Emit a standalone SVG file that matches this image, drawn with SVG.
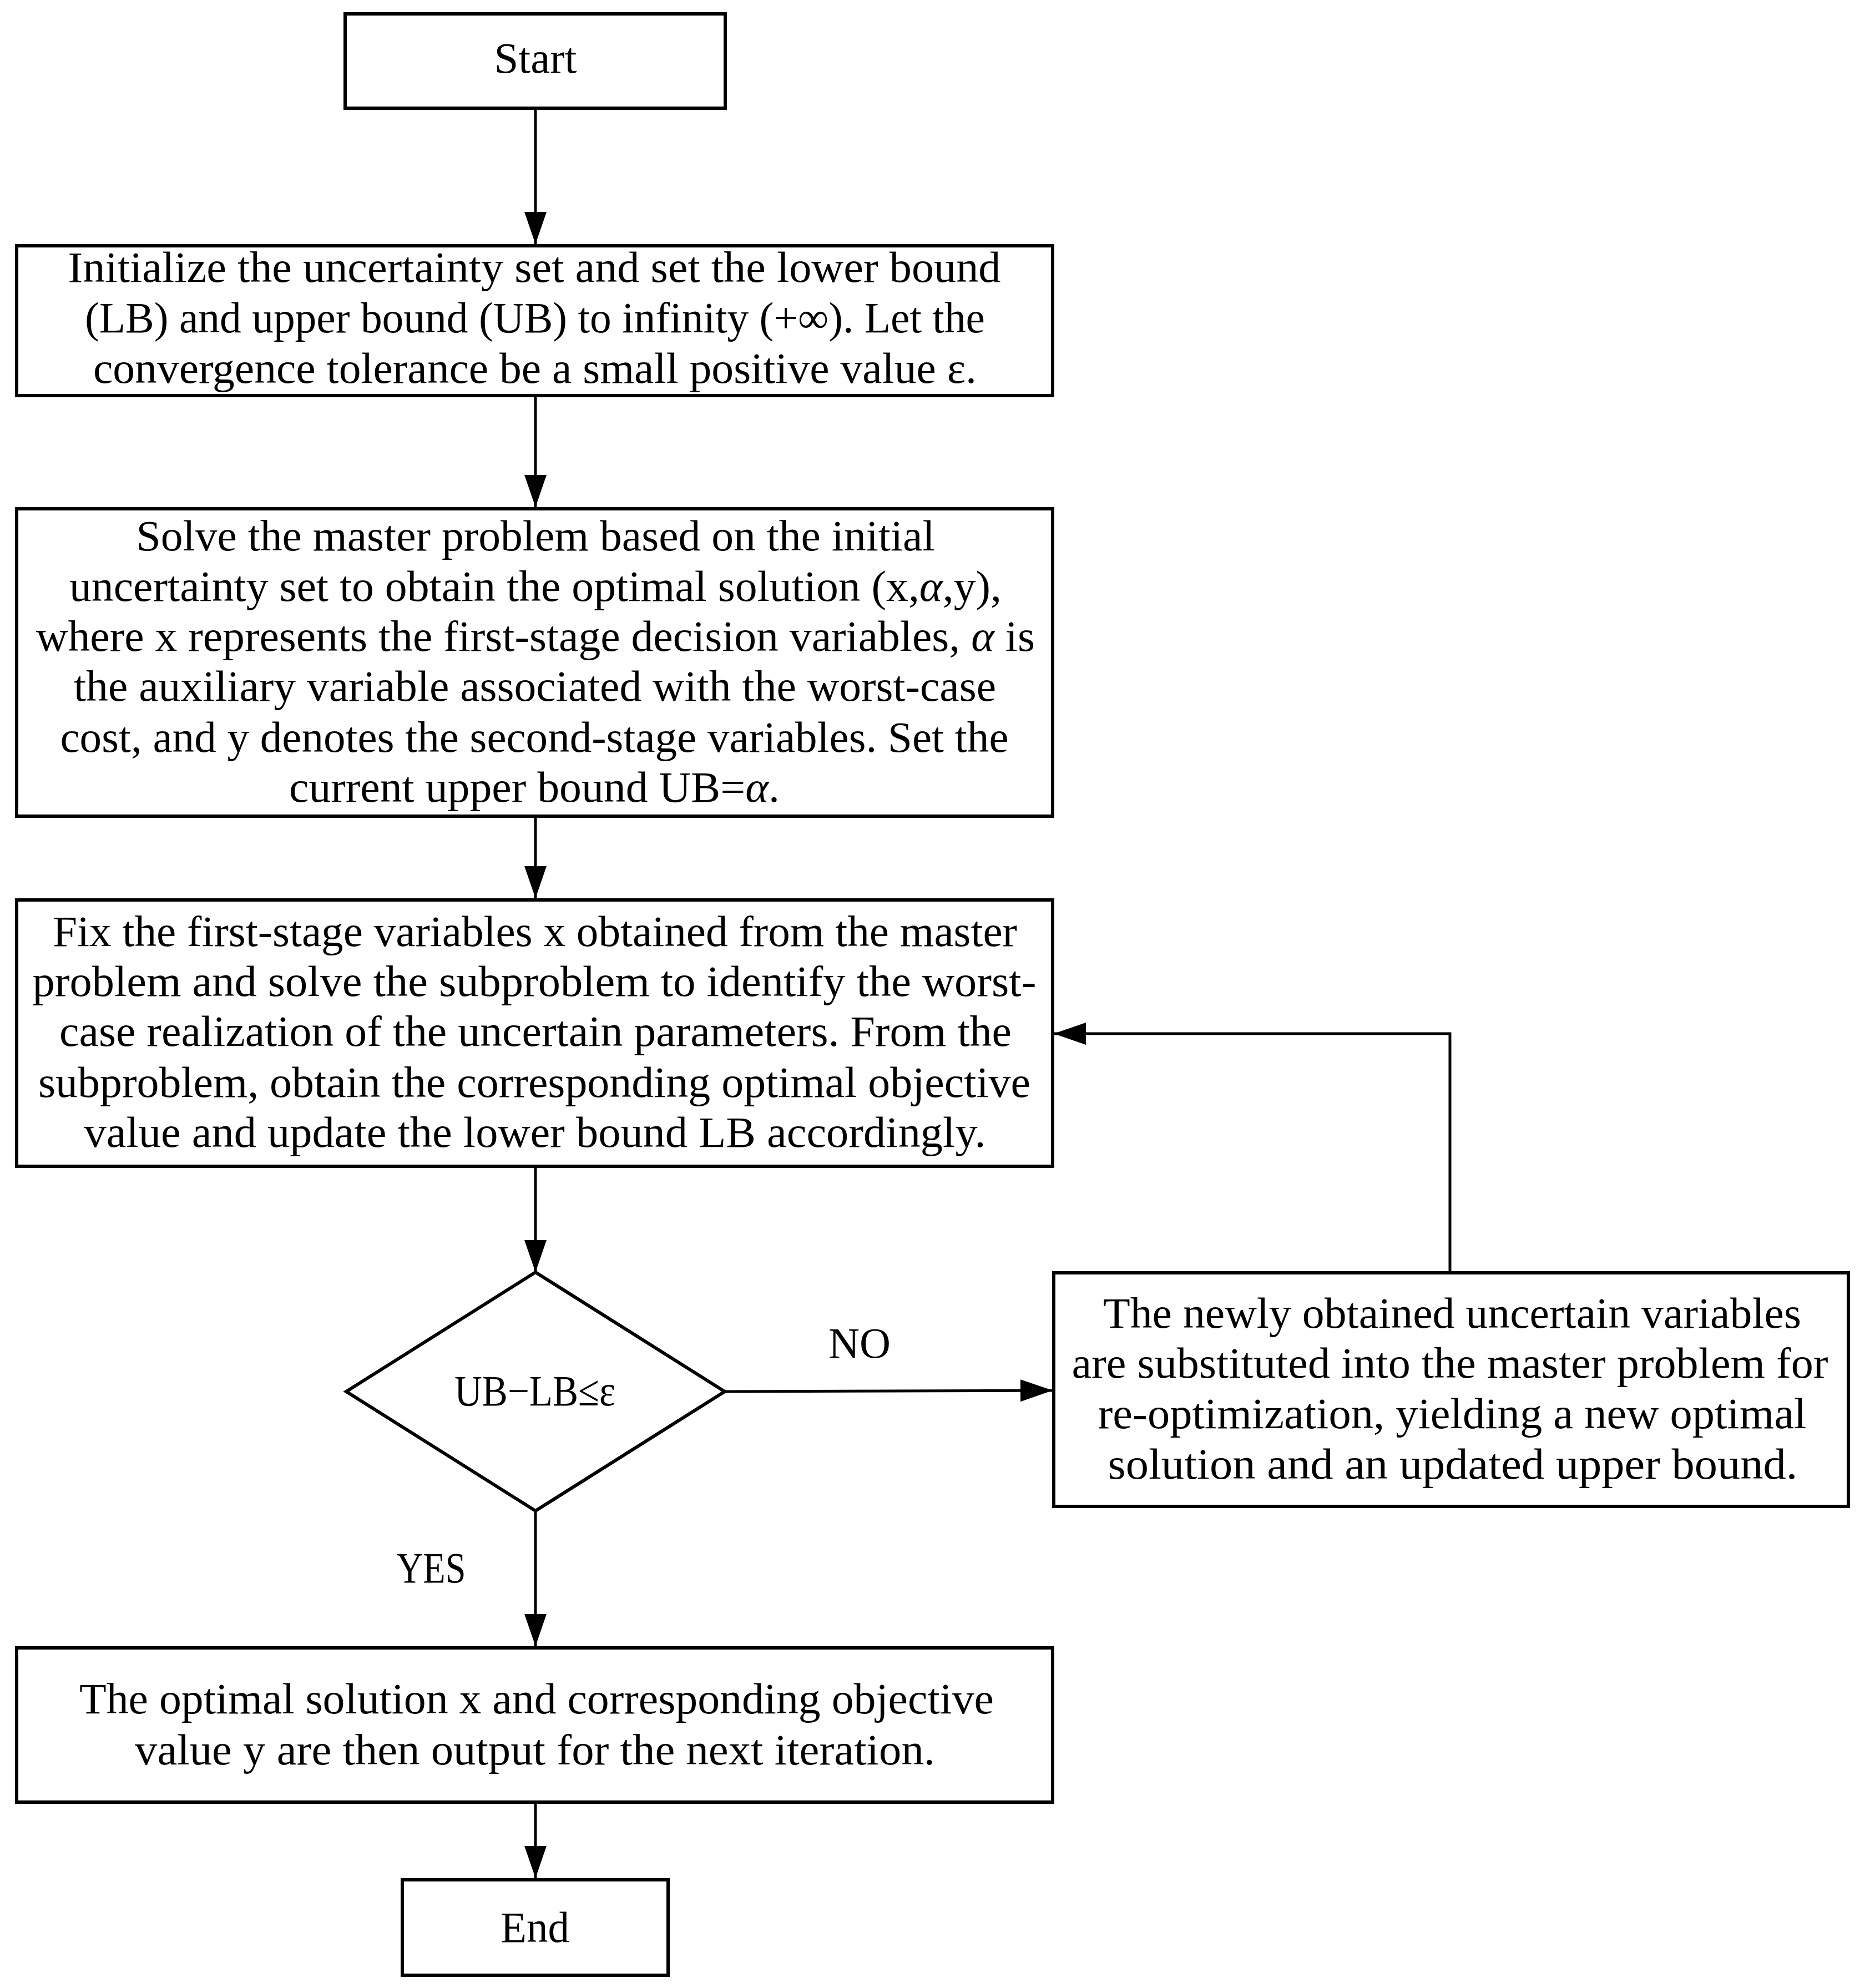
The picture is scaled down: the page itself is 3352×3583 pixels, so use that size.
<svg xmlns="http://www.w3.org/2000/svg" width="3352" height="3583" viewBox="0 0 3352 3583">
<style>
.box{fill:#fff;stroke:#000;stroke-width:6}
.t{font-family:"Liberation Serif","Times New Roman",serif;font-size:78px;fill:#000;text-anchor:middle}
.c{fill:none;stroke:#000;stroke-width:5}
.i{font-style:italic}
</style>
<defs>
<marker id="ah" markerUnits="userSpaceOnUse" markerWidth="60" markerHeight="42" refX="58" refY="20" orient="auto">
<path d="M0,0 L58,20 L0,40 Z" fill="#000"/>
</marker>
</defs>
<rect width="3352" height="3583" fill="#fff"/>
<g id="connectors">
<path class="c" d="M965,195 V440" marker-end="url(#ah)"/>
<path class="c" d="M965,713 V914" marker-end="url(#ah)"/>
<path class="c" d="M965,1471 V1619" marker-end="url(#ah)"/>
<path class="c" d="M965,2102 V2293" marker-end="url(#ah)"/>
<path class="c" d="M965,2723 V2967" marker-end="url(#ah)"/>
<path class="c" d="M965,3248 V3385" marker-end="url(#ah)"/>
<path class="c" d="M1306,2508 L1897,2506" marker-end="url(#ah)"/>
<path class="c" d="M2613,2294 V1863 H1899" marker-end="url(#ah)"/>
<text class="t" x="1549" y="2447" textLength="112" lengthAdjust="spacingAndGlyphs">NO</text>
<text class="t" x="777" y="2852" textLength="125" lengthAdjust="spacingAndGlyphs">YES</text>
</g>
<g id="start">
<rect class="box" x="622" y="25" width="685" height="170"/>
<text class="t" x="965" y="131" textLength="149" lengthAdjust="spacingAndGlyphs">Start</text>
</g>
<g id="init">
<rect class="box" x="30" y="443" width="1867" height="270"/>
<text class="t" x="963" y="508" textLength="1681" lengthAdjust="spacingAndGlyphs">Initialize the uncertainty set and set the lower bound</text>
<text class="t" x="964" y="599" textLength="1622" lengthAdjust="spacingAndGlyphs">(LB) and upper bound (UB) to infinity (+∞). Let the</text>
<text class="t" x="964" y="690" textLength="1592" lengthAdjust="spacingAndGlyphs">convergence tolerance be a small positive value ε.</text>
</g>
<g id="master">
<rect class="box" x="30" y="917" width="1867" height="554"/>
<text class="t" x="965" y="992" textLength="1439" lengthAdjust="spacingAndGlyphs">Solve the master problem based on the initial</text>
<text class="t" x="965" y="1083" textLength="1680" lengthAdjust="spacingAndGlyphs">uncertainty set to obtain the optimal solution (x,<tspan class="i">α</tspan>,y),</text>
<text class="t" x="965" y="1173" textLength="1800" lengthAdjust="spacingAndGlyphs">where x represents the first-stage decision variables, <tspan class="i">α</tspan> is</text>
<text class="t" x="964" y="1263" textLength="1662" lengthAdjust="spacingAndGlyphs">the auxiliary variable associated with the worst-case</text>
<text class="t" x="963" y="1355" textLength="1709" lengthAdjust="spacingAndGlyphs">cost, and y denotes the second-stage variables. Set the</text>
<text class="t" x="963" y="1445" textLength="884" lengthAdjust="spacingAndGlyphs">current upper bound UB=<tspan class="i">α</tspan>.</text>
</g>
<g id="sub">
<rect class="box" x="30" y="1622" width="1867" height="480"/>
<text class="t" x="964" y="1705" textLength="1738" lengthAdjust="spacingAndGlyphs">Fix the first-stage variables x obtained from the master</text>
<text class="t" x="963" y="1795" textLength="1809" lengthAdjust="spacingAndGlyphs">problem and solve the subproblem to identify the worst-</text>
<text class="t" x="965" y="1885" textLength="1716" lengthAdjust="spacingAndGlyphs">case realization of the uncertain parameters. From the</text>
<text class="t" x="963" y="1977" textLength="1788" lengthAdjust="spacingAndGlyphs">subproblem, obtain the corresponding optimal objective</text>
<text class="t" x="964" y="2067" textLength="1625" lengthAdjust="spacingAndGlyphs">value and update the lower bound LB accordingly.</text>
</g>
<g id="decision">
<polygon class="box" points="965,2293 1306,2508 965,2723 624,2508"/>
<text class="t" x="964" y="2533" textLength="290" lengthAdjust="spacingAndGlyphs">UB−LB≤ε</text>
</g>
<g id="update">
<rect class="box" x="1899" y="2294" width="1432" height="421"/>
<text class="t" x="2617" y="2393" textLength="1258" lengthAdjust="spacingAndGlyphs">The newly obtained uncertain variables</text>
<text class="t" x="2613" y="2483" textLength="1363" lengthAdjust="spacingAndGlyphs">are substituted into the master problem for</text>
<text class="t" x="2617" y="2574" textLength="1277" lengthAdjust="spacingAndGlyphs">re-optimization, yielding a new optimal</text>
<text class="t" x="2618" y="2665" textLength="1243" lengthAdjust="spacingAndGlyphs">solution and an updated upper bound.</text>
</g>
<g id="output">
<rect class="box" x="30" y="2970" width="1867" height="278"/>
<text class="t" x="967" y="3088" textLength="1648" lengthAdjust="spacingAndGlyphs">The optimal solution x and corresponding objective</text>
<text class="t" x="964" y="3180" textLength="1442" lengthAdjust="spacingAndGlyphs">value y are then output for the next iteration.</text>
</g>
<g id="end">
<rect class="box" x="725" y="3388" width="479" height="172"/>
<text class="t" x="964" y="3500" textLength="124" lengthAdjust="spacingAndGlyphs">End</text>
</g>
</svg>
